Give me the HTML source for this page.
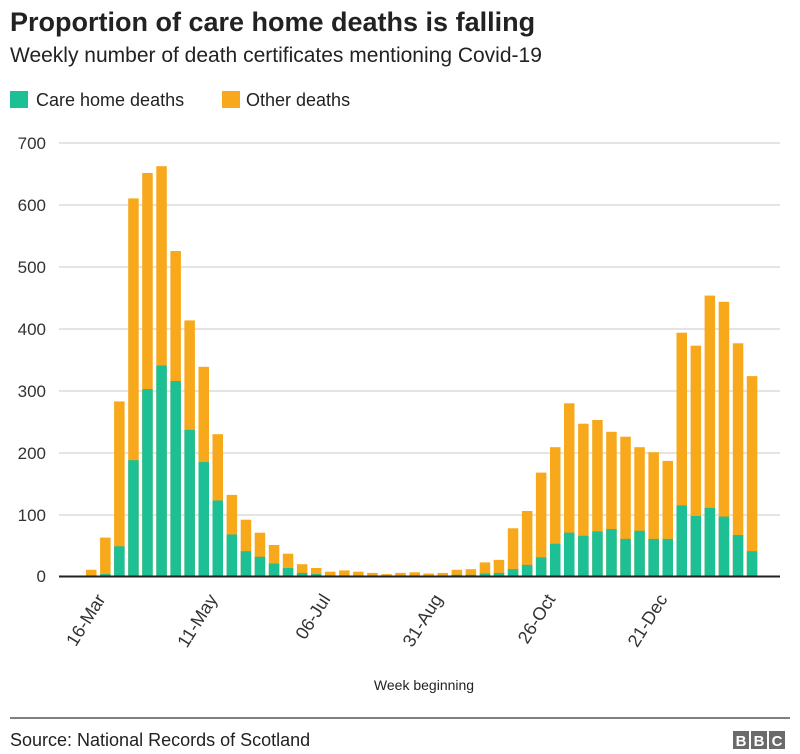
<!DOCTYPE html>
<html><head><meta charset="utf-8"><style>
body{margin:0;background:#fff;}
svg{display:block;font-family:"Liberation Sans",Arial,sans-serif;}
</style></head><body>
<svg width="800" height="754" viewBox="0 0 800 754">
<text x="10" y="31" font-size="27" font-weight="bold" fill="#222">Proportion of care home deaths is falling</text>
<text x="10" y="62" font-size="21" fill="#222">Weekly number of death certificates mentioning Covid-19</text>
<rect x="10" y="91" width="18" height="17" fill="#1dbf94"/>
<text x="36" y="106" font-size="18" fill="#222">Care home deaths</text>
<rect x="222" y="91" width="18" height="17" fill="#f7a81b"/>
<text x="246" y="106" font-size="18" fill="#222">Other deaths</text>
<g stroke="#d3d3d3" stroke-width="1.2">
<line x1="59" x2="780" y1="143" y2="143"/><line x1="59" x2="780" y1="205" y2="205"/>
<line x1="59" x2="780" y1="267" y2="267"/><line x1="59" x2="780" y1="329" y2="329"/>
<line x1="59" x2="780" y1="391" y2="391"/><line x1="59" x2="780" y1="453" y2="453"/>
<line x1="59" x2="780" y1="515" y2="515"/>
</g>
<g font-size="17" fill="#333" text-anchor="end">
<text x="46" y="149">700</text><text x="46" y="211">600</text><text x="46" y="273">500</text>
<text x="46" y="335">400</text><text x="46" y="397">300</text><text x="46" y="459">200</text>
<text x="46" y="521">100</text><text x="46" y="582">0</text>
</g>
<g transform="translate(0,576) scale(1,-1)" fill="#f7a81b">
<rect x="86.0" y="0" width="10.5" height="6.2"/>
<rect x="100.1" y="0" width="10.5" height="38.4"/>
<rect x="114.1" y="0" width="10.5" height="174.6"/>
<rect x="128.2" y="0" width="10.5" height="377.6"/>
<rect x="142.2" y="0" width="10.5" height="403.0"/>
<rect x="156.3" y="0" width="10.5" height="409.8"/>
<rect x="170.4" y="0" width="10.5" height="325.0"/>
<rect x="184.4" y="0" width="10.5" height="255.6"/>
<rect x="198.5" y="0" width="10.5" height="209.2"/>
<rect x="212.5" y="0" width="10.5" height="141.8"/>
<rect x="226.6" y="0" width="10.5" height="81.1"/>
<rect x="240.7" y="0" width="10.5" height="56.3"/>
<rect x="254.7" y="0" width="10.5" height="43.3"/>
<rect x="268.8" y="0" width="10.5" height="31.0"/>
<rect x="282.8" y="0" width="10.5" height="22.3"/>
<rect x="296.9" y="0" width="10.5" height="11.8"/>
<rect x="311.0" y="0" width="10.5" height="8.0"/>
<rect x="325.0" y="0" width="10.5" height="4.3"/>
<rect x="339.1" y="0" width="10.5" height="5.6"/>
<rect x="353.1" y="0" width="10.5" height="4.3"/>
<rect x="367.2" y="0" width="10.5" height="3.1"/>
<rect x="381.3" y="0" width="10.5" height="1.9"/>
<rect x="395.3" y="0" width="10.5" height="3.1"/>
<rect x="409.4" y="0" width="10.5" height="3.7"/>
<rect x="423.4" y="0" width="10.5" height="2.5"/>
<rect x="437.5" y="0" width="10.5" height="3.1"/>
<rect x="451.6" y="0" width="10.5" height="6.2"/>
<rect x="465.6" y="0" width="10.5" height="6.8"/>
<rect x="479.7" y="0" width="10.5" height="13.6"/>
<rect x="493.7" y="0" width="10.5" height="16.1"/>
<rect x="507.8" y="0" width="10.5" height="47.7"/>
<rect x="521.9" y="0" width="10.5" height="65.0"/>
<rect x="535.9" y="0" width="10.5" height="103.4"/>
<rect x="550.0" y="0" width="10.5" height="128.8"/>
<rect x="564.0" y="0" width="10.5" height="172.7"/>
<rect x="578.1" y="0" width="10.5" height="152.3"/>
<rect x="592.2" y="0" width="10.5" height="156.0"/>
<rect x="606.2" y="0" width="10.5" height="144.2"/>
<rect x="620.3" y="0" width="10.5" height="139.3"/>
<rect x="634.3" y="0" width="10.5" height="128.8"/>
<rect x="648.4" y="0" width="10.5" height="123.8"/>
<rect x="662.5" y="0" width="10.5" height="115.1"/>
<rect x="676.5" y="0" width="10.5" height="243.3"/>
<rect x="690.6" y="0" width="10.5" height="230.3"/>
<rect x="704.6" y="0" width="10.5" height="280.4"/>
<rect x="718.7" y="0" width="10.5" height="274.2"/>
<rect x="732.8" y="0" width="10.5" height="232.7"/>
<rect x="746.8" y="0" width="10.5" height="199.9"/>
</g>
<g transform="translate(0,576) scale(1,-1)" fill="#1dbf94">
<rect x="100.1" y="0" width="10.5" height="1.9"/>
<rect x="114.1" y="0" width="10.5" height="29.7"/>
<rect x="128.2" y="0" width="10.5" height="115.8"/>
<rect x="142.2" y="0" width="10.5" height="186.9"/>
<rect x="156.3" y="0" width="10.5" height="210.5"/>
<rect x="170.4" y="0" width="10.5" height="195.0"/>
<rect x="184.4" y="0" width="10.5" height="146.1"/>
<rect x="198.5" y="0" width="10.5" height="113.9"/>
<rect x="212.5" y="0" width="10.5" height="75.5"/>
<rect x="226.6" y="0" width="10.5" height="41.5"/>
<rect x="240.7" y="0" width="10.5" height="24.8"/>
<rect x="254.7" y="0" width="10.5" height="19.2"/>
<rect x="268.8" y="0" width="10.5" height="12.4"/>
<rect x="282.8" y="0" width="10.5" height="8.0"/>
<rect x="296.9" y="0" width="10.5" height="3.1"/>
<rect x="311.0" y="0" width="10.5" height="1.9"/>
<rect x="325.0" y="0" width="10.5" height="0.6"/>
<rect x="339.1" y="0" width="10.5" height="0.6"/>
<rect x="353.1" y="0" width="10.5" height="0.6"/>
<rect x="367.2" y="0" width="10.5" height="0.6"/>
<rect x="395.3" y="0" width="10.5" height="0.6"/>
<rect x="409.4" y="0" width="10.5" height="0.6"/>
<rect x="451.6" y="0" width="10.5" height="1.2"/>
<rect x="465.6" y="0" width="10.5" height="1.2"/>
<rect x="479.7" y="0" width="10.5" height="2.5"/>
<rect x="493.7" y="0" width="10.5" height="3.1"/>
<rect x="507.8" y="0" width="10.5" height="6.8"/>
<rect x="521.9" y="0" width="10.5" height="11.1"/>
<rect x="535.9" y="0" width="10.5" height="18.6"/>
<rect x="550.0" y="0" width="10.5" height="32.2"/>
<rect x="564.0" y="0" width="10.5" height="43.3"/>
<rect x="578.1" y="0" width="10.5" height="40.2"/>
<rect x="592.2" y="0" width="10.5" height="44.6"/>
<rect x="606.2" y="0" width="10.5" height="47.0"/>
<rect x="620.3" y="0" width="10.5" height="37.1"/>
<rect x="634.3" y="0" width="10.5" height="45.2"/>
<rect x="648.4" y="0" width="10.5" height="37.1"/>
<rect x="662.5" y="0" width="10.5" height="37.1"/>
<rect x="676.5" y="0" width="10.5" height="70.6"/>
<rect x="690.6" y="0" width="10.5" height="60.0"/>
<rect x="704.6" y="0" width="10.5" height="68.1"/>
<rect x="718.7" y="0" width="10.5" height="59.4"/>
<rect x="732.8" y="0" width="10.5" height="40.9"/>
<rect x="746.8" y="0" width="10.5" height="24.8"/>
</g>
<line x1="59" x2="780" y1="576.5" y2="576.5" stroke="#222" stroke-width="2"/>
<g font-size="18" fill="#333" text-anchor="end">
<text transform="translate(106,599) rotate(-58)">16-Mar</text>
<text transform="translate(218,599) rotate(-58)">11-May</text>
<text transform="translate(331,599) rotate(-58)">06-Jul</text>
<text transform="translate(443,599) rotate(-58)">31-Aug</text>
<text transform="translate(556,599) rotate(-58)">26-Oct</text>
<text transform="translate(668,599) rotate(-58)">21-Dec</text>
</g>
<text x="424" y="690" font-size="14" fill="#222" text-anchor="middle">Week beginning</text>
<line x1="10" x2="790" y1="718" y2="718" stroke="#555" stroke-width="1.5"/>
<text x="10" y="746" font-size="18" fill="#222">Source: National Records of Scotland</text>
<g font-size="15" font-weight="bold" fill="#fff" text-anchor="middle">
<rect x="733" y="731" width="16" height="18" fill="#6a6a6a"/><text x="741" y="746">B</text>
<rect x="751" y="731" width="16" height="18" fill="#6a6a6a"/><text x="759" y="746">B</text>
<rect x="769" y="731" width="16" height="18" fill="#6a6a6a"/><text x="777" y="746">C</text>
</g>
</svg>
</body></html>
